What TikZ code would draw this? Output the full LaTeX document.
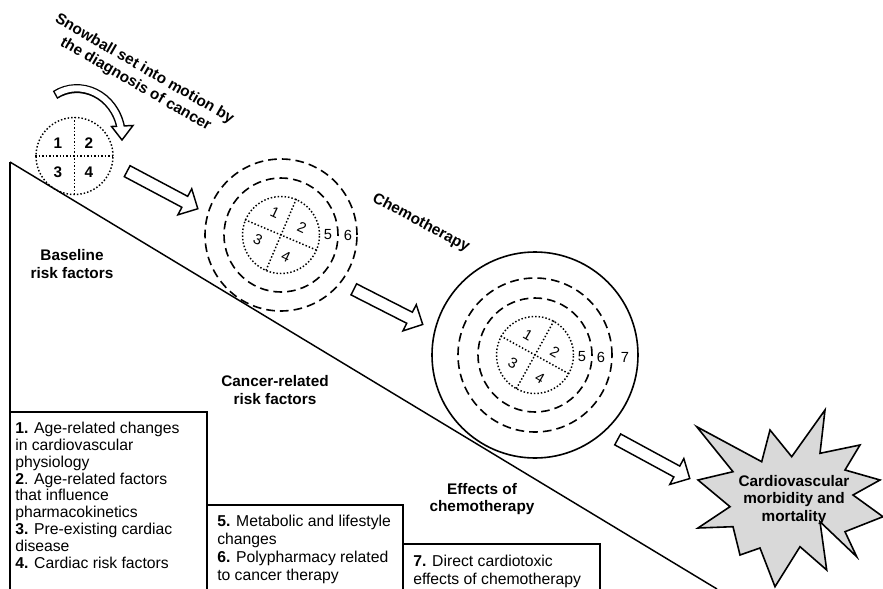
\documentclass[tikz,border=0pt]{standalone}
\usepackage{fontspec}
\setmainfont{Liberation Sans}
\usetikzlibrary{shapes.arrows}

\begin{document}
\begin{tikzpicture}[x=0.75pt,y=-0.75pt,
    lbl/.style={font=\fontsize{11.5}{13.3}\selectfont\bfseries,align=center},
    num/.style={font=\fontsize{11}{12}\selectfont},
    dots/.style={line width=1.1pt,dash pattern=on 1.1pt off 1.5pt},
    dashring/.style={circle,draw,line width=1.2pt,dash pattern=on 6.5pt off 3.8pt,inner sep=0pt},
    dotring/.style={circle,draw,dots,inner sep=0pt,minimum size=57.75pt},
    hollow/.style={single arrow,draw,line width=1.1pt,fill=white,inner sep=4.1pt,
        minimum width=21pt,single arrow head extend=6.4pt},
    listtext/.style={font=\fontsize{11.8}{12.6}\selectfont,align=left,anchor=north west,inner sep=0pt}]
    \useasboundingbox (0,0) rectangle (883,589);

    % slope and boxes
    \draw[line width=1.5pt] (10,162) -- (10,589);
    \draw[line width=1.1pt] (10,162) -- (717,589);
    \draw[line width=0.8pt] (10,412) -- (207,412) -- (207,589);
    \draw[line width=0.8pt] (207,505) -- (403,505) -- (403,589);
    \draw[line width=0.8pt] (403,544) -- (600,544) -- (600,589);

    % first ball
    \node[dotring] (core1) at (74.5,156) {};
    \draw[dots] (core1.west) -- (core1.east);
    \draw[dots] (core1.north) -- (core1.south);
    \node[num,font=\fontsize{11.5}{12}\selectfont\bfseries] at (58,143) {1};
    \node[num,font=\fontsize{11.5}{12}\selectfont\bfseries] at (89,143) {2};
    \node[num,font=\fontsize{11.5}{12}\selectfont\bfseries] at (58,172) {3};
    \node[num,font=\fontsize{11.5}{12}\selectfont\bfseries] at (89,172) {4};

    % curved arrow
    \coordinate (spinS) at (55,95);
    \coordinate (spinE) at (121,129);
    \draw[line width=6.75pt] (spinS) .. controls (80,79) and (115,94) .. (spinE);
    \draw[line width=1.1pt,fill=white,line join=miter] (111.5,126.5) -- (133,125.5) -- (122,140) -- cycle;
    \draw[white,line width=4.55pt,shorten <=1.1pt] (spinS) .. controls (80,79) and (115,94) .. (spinE);
    \node[lbl,rotate=-30,font=\fontsize{11.5}{13.2}\selectfont\bfseries] (snowball) at (140,77)
        {Snowball set into motion by\\the diagnosis of cancer};

    % second ball
    \node[dashring,minimum size=114pt] (ring2b) at (281,235) {};
    \node[dashring,minimum size=85.5pt] (ring2a) at (281,235) {};
    \node[dotring] (core2) at (281,235) {};
    \draw[dots] (core2.157) -- (core2.-23);
    \draw[dots] (core2.67) -- (core2.247);
    \node[num,rotate=-25] at (275,213) {1};
    \node[num,rotate=-25] at (302,228) {2};
    \node[num,rotate=-25] at (258,240) {3};
    \node[num,rotate=-25] at (286,257) {4};
    \node[num] at (328,235) {5};
    \node[num] at (348,235) {6};

    % third ball
    \node[circle,draw,line width=1.2pt,inner sep=0pt,minimum size=154.5pt] (ball3) at (535,355) {};
    \node[dashring,minimum size=115.5pt] (ring3b) at (535,355) {};
    \node[dashring,minimum size=85.5pt] (ring3a) at (535,355) {};
    \node[dotring] (core3) at (535,355) {};
    \draw[dots] (core3.151) -- (core3.-29);
    \draw[dots] (core3.61) -- (core3.241);
    \node[num,rotate=-30] at (528,335) {1};
    \node[num,rotate=-30] at (555,352) {2};
    \node[num,rotate=-30] at (513,363) {3};
    \node[num,rotate=-30] at (540,378) {4};
    \node[num] at (582,357) {5};
    \node[num] at (601,357) {6};
    \node[num] at (625,357) {7};

    % block arrows
    \node[hollow,rotate=-28,minimum height=60pt] (arrA) at (159.75,188.5) {};
    \node[hollow,rotate=-27,minimum height=58pt] (arrB) at (385.5,305.5) {};
    \node[hollow,rotate=-28.5,minimum height=61.5pt] (arrC) at (651,457.5) {};
    \node[lbl,rotate=-28] (chemo) at (421,223) {Chemotherapy};

    % outcome star
    \draw[line width=1.2pt,fill=gray!30,line join=miter]
        (696.7,426.7) -- (761.7,461.7) -- (770,430) -- (791.7,456.7) -- (825,410)
        -- (820,453.3) -- (860,445) -- (845,470) -- (880,480) -- (853,495)
        -- (883,516.7) -- (845,531.7) -- (856.7,556.7) -- (820,521.7) -- (826.7,570)
        -- (800,546.7) -- (775,586.7) -- (760,548) -- (740,555) -- (733,526.7)
        -- (698,528) -- (730,506.7) -- (698,480) -- (733,471.7) -- cycle;
    \node[lbl] (outcome) at (794,500) {Cardiovascular\\morbidity and\\mortality};

    % stage labels
    \node[lbl] (base) at (72,264) {Baseline\\risk factors};
    \node[lbl] (cancer) at (275,390) {Cancer-related\\risk factors};
    \node[lbl] (effects) at (482,499) {Effects of\\chemotherapy};

    % lists
    \node[listtext] (list1) at (15,422) {\textbf{1.} Age-related changes\\in cardiovascular\\physiology\\\textbf{2}. Age-related factors\\that influence\\pharmacokinetics\\\textbf{3.} Pre-existing cardiac\\disease\\\textbf{4.} Cardiac risk factors};
    \node[listtext,font=\fontsize{11.8}{13.4}\selectfont] (list2) at (217,515) {\textbf{5.} Metabolic and lifestyle\\changes\\\textbf{6.} Polypharmacy related\\to cancer therapy};
    \node[listtext,font=\fontsize{11.8}{13.4}\selectfont] (list3) at (413,555) {\textbf{7.} Direct cardiotoxic\\effects of chemotherapy};
\end{tikzpicture}
\end{document}
